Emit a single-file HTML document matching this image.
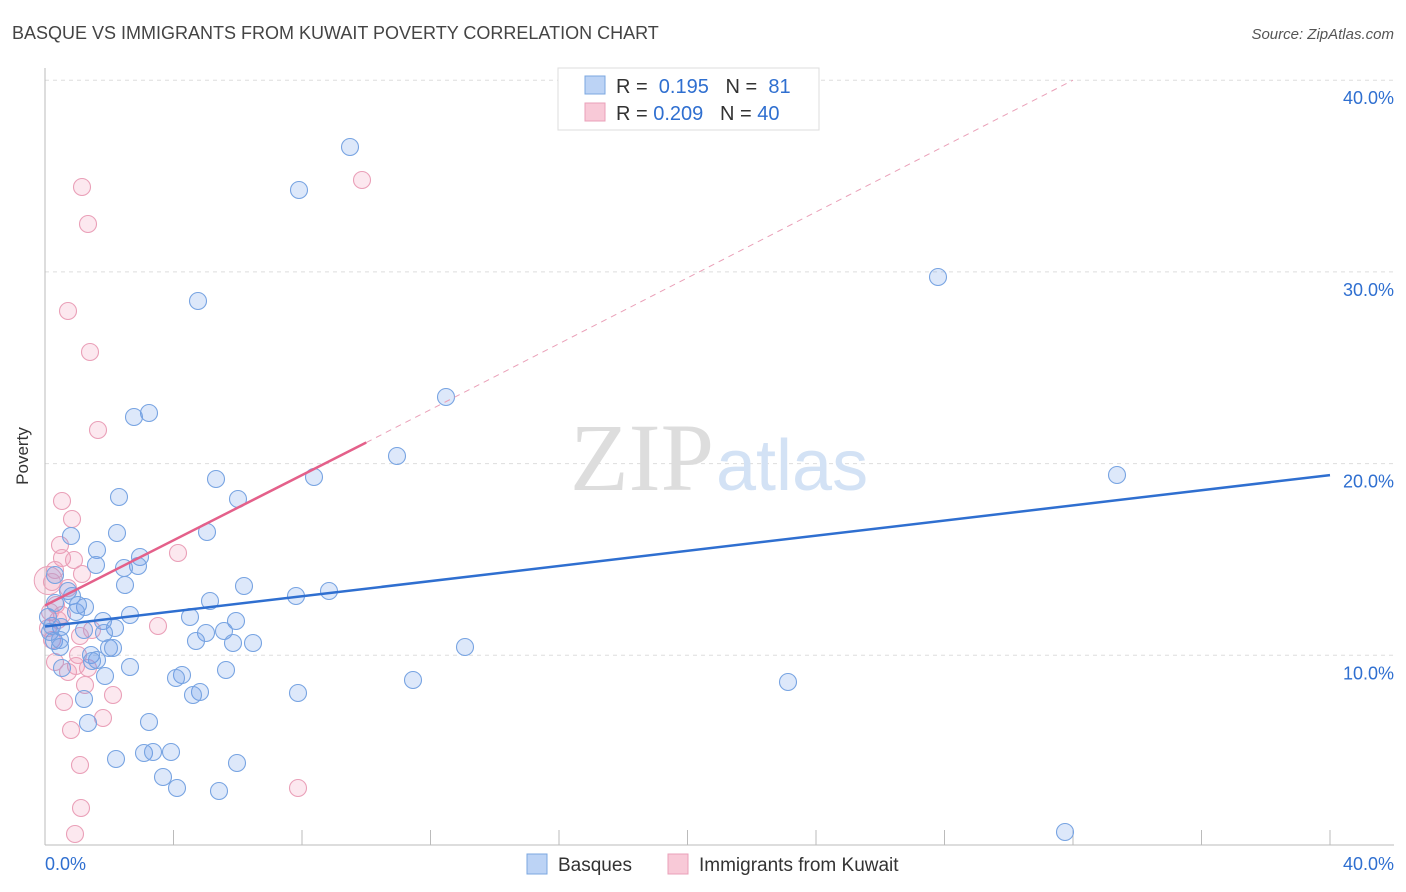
<!DOCTYPE html>
<html><head><meta charset="utf-8"><style>
body{margin:0;background:#fff;font-family:"Liberation Sans",sans-serif;}
svg{display:block}
</style></head><body>
<svg width="1406" height="892">
<text x="12" y="39" font-size="18" fill="#444">BASQUE VS IMMIGRANTS FROM KUWAIT POVERTY CORRELATION CHART</text>
<text x="1394" y="39" font-size="15" fill="#555" font-style="italic" text-anchor="end">Source: ZipAtlas.com</text>
<g id="grid"></g>
<text x="714" y="490" font-size="96" fill="#ddd" font-family="Liberation Serif" text-anchor="end">ZIP</text>
<text x="716" y="490" font-size="72" fill="#d3e2f5">atlas</text>
<line x1="45" y1="68" x2="45" y2="845" stroke="#bbb"/>
<line x1="45" y1="845" x2="1394" y2="845" stroke="#bbb"/>
<text x="28" y="456" font-size="17" fill="#333" transform="rotate(-90 28 456)" text-anchor="middle">Poverty</text>
<g id="pts"></g>
<g id="lines"></g>
<g>
<rect x="558" y="68" width="261" height="62" fill="#fff" stroke="#ddd"/>
<rect x="585" y="76" width="20" height="18" fill="#bcd3f5" stroke="#7ba7e0"/>
<rect x="585" y="103" width="20" height="18" fill="#f8c9d7" stroke="#eaa0b8"/>
<text x="616" y="93" font-size="20" fill="#333">R = <tspan fill="#2f6fd0">&#160;0.195</tspan>&#160;&#160;&#160;N = <tspan fill="#2f6fd0">&#160;81</tspan></text>
<text x="616" y="120" font-size="20" fill="#333">R = <tspan fill="#2f6fd0">0.209</tspan>&#160;&#160;&#160;N = <tspan fill="#2f6fd0">40</tspan></text>
</g>
<g>
<rect x="527" y="854" width="20" height="20" fill="#bcd3f5" stroke="#7ba7e0"/>
<text x="558" y="871" font-size="19" fill="#333">Basques</text>
<rect x="668" y="854" width="20" height="20" fill="#f8c9d7" stroke="#eaa0b8"/>
<text x="699" y="871" font-size="19" fill="#333">Immigrants from Kuwait</text>
</g>
<text x="45" y="870" font-size="18" fill="#2f6fd0">0.0%</text>
<text x="1394" y="870" font-size="18" fill="#2f6fd0" text-anchor="end">40.0%</text>
</svg>
<script>
const yTicks=[10,20,30,40];
const blueX=[350,299,198,938,446,149,134,397,1117,314,216,119,238,207,117,71,97,140,96,138,124,125,244,55,329,296,210,72,85,76,130,190,103,236,115,84,61,104,224,206,196,233,253,54,60,109,113,465,91,97,92,130,62,226,105,182,176,413,788,200,193,298,84,88,149,116,144,153,171,237,163,177,219,1065,50,52,48,55,68,78,60].map(p=>(p-45)/1285*40);
const blueY=[147,190,301,277,397,413,417,456,475,477,479,497,499,532,533,536,550,557,565,566,568,585,586,575,591,596,601,596,607,612,615,617,621,621,628,630,627,633,631,633,641,643,643,641,647,648,648,647,655,660,661,667,668,670,676,675,678,680,682,692,695,693,699,723,722,759,753,752,752,763,777,788,791,832,632,626,617,603,591,605,640].map(p=>(847-p)/19.17);
const pinkX=[82,362,88,68,90,98,62,72,60,62,74,178,55,82,68,52,56,62,50,158,92,80,52,78,76,55,88,68,85,113,64,103,71,80,81,75,298,48,58].map(p=>(p-45)/1285*40);
const pinkY=[187,180,224,311,352,430,501,519,545,558,560,553,570,574,588,582,605,615,612,626,630,636,640,655,666,662,668,672,685,695,702,718,730,765,808,834,788,628,620].map(p=>(847-p)/19.17);
const blueLine=[[0,11.5],[40,19.4]];
const pinkLine=[[0,12.6],[10,21.1]];
const pinkDash=[[10,21.1],[32,40]];
const NS="http://www.w3.org/2000/svg";
const sx=v=>45+v/40*1285, sy=v=>847-v*19.17;
function mk(t,a,p){const e=document.createElementNS(NS,t);for(const k in a)e.setAttribute(k,a[k]);p.appendChild(e);return e;}
const grid=document.getElementById('grid');
yTicks.forEach(t=>{
 const l=mk('line',{x1:45,x2:1394,y1:sy(t),y2:sy(t),stroke:'#ddd','stroke-dasharray':'4,4'},grid);
 
 
 const tx=mk('text',{x:1394,y:sy(t)+24,'font-size':18,fill:'#2f6fd0','text-anchor':'end'},grid);
 tx.textContent=t.toFixed(1)+'%';
 
 
});
for(let i=1;i<=10;i++){const l=mk('line',{x1:sx(i*4),x2:sx(i*4),y1:830,y2:845,stroke:'#bbb'},grid);
 
 }
const pts=document.getElementById('pts');
const big=mk('circle',{cx:sx(0.1),cy:sy(13.9),r:14,fill:'rgba(240,150,180,0.22)',stroke:'#eaa0b8'},pts);


pinkX.forEach((x,i)=>{const c=mk('circle',{cx:sx(x),cy:sy(pinkY[i]),r:8.5,fill:'rgba(240,150,180,0.22)',stroke:'#eaa0b8','stroke-width':1.1},pts);
 
 });
blueX.forEach((x,i)=>{const c=mk('circle',{cx:sx(x),cy:sy(blueY[i]),r:8.5,fill:'rgba(100,150,230,0.22)',stroke:'#78a4e2','stroke-width':1.1},pts);
 
 });
const lg=document.getElementById('lines');
const d=mk('line',{x1:sx(pinkDash[0][0]),y1:sy(pinkDash[0][1]),x2:sx(pinkDash[1][0]),y2:sy(pinkDash[1][1]),stroke:'#eaa0b8','stroke-dasharray':'6,5'},lg);


const p=mk('line',{x1:sx(pinkLine[0][0]),y1:sy(pinkLine[0][1]),x2:sx(pinkLine[1][0]),y2:sy(pinkLine[1][1]),stroke:'#e4608a','stroke-width':2.5},lg);


const b=mk('line',{x1:sx(blueLine[0][0]),y1:sy(blueLine[0][1]),x2:sx(blueLine[1][0]),y2:sy(blueLine[1][1]),stroke:'#2f6fd0','stroke-width':2.5},lg);


</script>
</body></html>
